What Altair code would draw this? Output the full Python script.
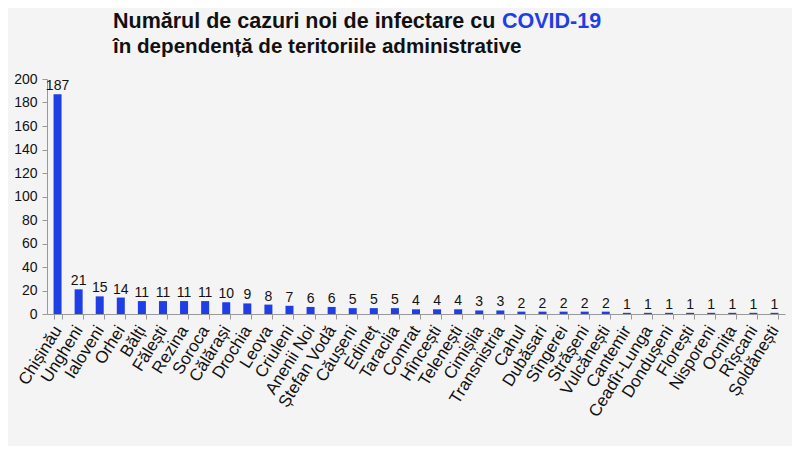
import altair as alt
import pandas as pd

districts = ["Chișinău", "Ungheni", "Ialoveni", "Orhei", "Bălți", "Fălești", "Rezina",
             "Soroca", "Călărași", "Drochia", "Leova", "Criuleni", "Anenii Noi",
             "Ștefan Vodă", "Căușeni", "Edineț", "Taraclia", "Comrat", "Hîncești",
             "Telenești", "Cimișlia", "Transnistria", "Cahul", "Dubăsari", "Sîngerei",
             "Strășeni", "Vulcănești", "Cantemir", "Ceadîr-Lunga", "Dondușeni",
             "Florești", "Nisporeni", "Ocnița", "Rîșcani", "Șoldănești"]
cases = [187, 21, 15, 14, 11, 11, 11, 11, 10, 9, 8, 7, 6, 6, 5, 5, 5, 4, 4, 4,
         3, 3, 2, 2, 2, 2, 2, 1, 1, 1, 1, 1, 1, 1, 1]

title_parts = ["Numărul de cazuri noi de infectare cu", "COVID-19",
               "în dependență de teritoriile administrative"]

df = pd.DataFrame({"district": districts, "cases": cases})

FONT = "Liberation Sans"
BLUE = "#1f3ee6"

x = alt.X("district:N", sort=None, title=None,
          scale=alt.Scale(paddingInner=0.62, paddingOuter=0.31),
          axis=alt.Axis(labelAngle=-58, labelFontSize=17, labelFont=FONT,
                        labelColor="#111111", domainColor="#999999",
                        tickColor="#999999", tickSize=5, tickBand="extent",
                        labelPadding=8, labelOverlap=False))
y = alt.Y("cases:Q", title=None,
          scale=alt.Scale(domain=[0, 200], nice=False),
          axis=alt.Axis(values=list(range(0, 201, 20)), grid=False,
                        labelFontSize=14, labelFont=FONT, labelColor="#111111",
                        domainColor="#999999", tickColor="#999999", tickSize=5,
                        labelPadding=5, labelOverlap=False))

bars = alt.Chart(df).mark_bar(color=BLUE).encode(x=x, y=y)
labels = alt.Chart(df).mark_text(baseline="bottom", dy=-1, fontSize=14, font=FONT,
                                 color="#111111").encode(x=x, y=y, text="cases:Q")

def title_text(txt, xpos, ypos, color, size):
    return alt.Chart(pd.DataFrame({"t": [txt]})).mark_text(
        align="left", baseline="middle", fontSize=size, fontWeight="bold", font=FONT,
        color=color).encode(x=alt.value(xpos), y=alt.value(ypos), text="t:N")

t1 = title_text(title_parts[0], 66, -57, "#111111", 21.5)
t2 = title_text(title_parts[1], 455, -57, BLUE, 21.5)
t3 = title_text(title_parts[2], 66, -32, "#111111", 20.6)

chart = alt.layer(bars, labels, t1, t2, t3).properties(
    width=738, height=235,
    autosize=alt.AutoSizeParams(type="none"),
    padding={"left": 39, "top": 71, "right": 7, "bottom": 132},
    background="#f5f4f4",
).configure_view(stroke=None)

chart.save("out.html", embed_options={"renderer": "svg", "actions": False})
